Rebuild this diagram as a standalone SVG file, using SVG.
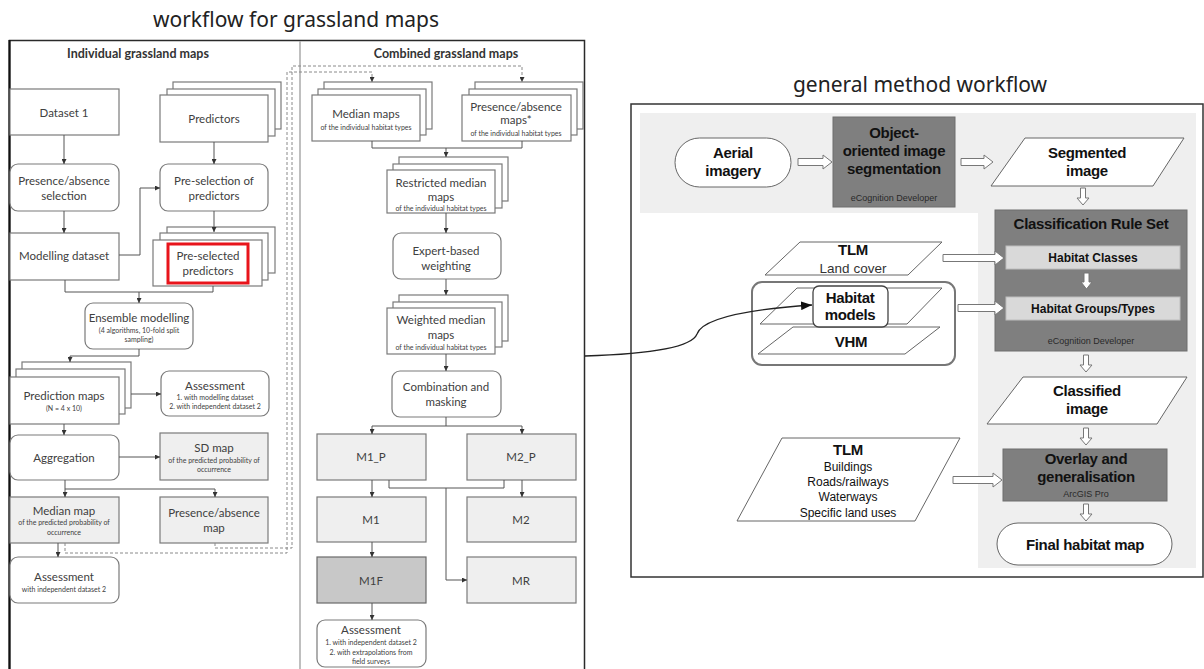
<svg xmlns="http://www.w3.org/2000/svg" width="1204" height="669" viewBox="0 0 1204 669">
<style>
.bx{fill:#fff;stroke:#7a7a7a;stroke-width:1.2}
.gy{fill:#efefef;stroke:#7a7a7a;stroke-width:1.2}
.dk{fill:#c8c8c8;stroke:#6a6a6a;stroke-width:1.2}
.t{font-family:Lato,"Open Sans",sans-serif;fill:#404040;text-anchor:middle}
.m{font-size:11.5px}
.s{font-size:7px}
.h{font-size:12.5px;font-weight:bold;fill:#333}
.cn{fill:none;stroke:#555;stroke-width:1}
.ds{fill:none;stroke:#8a8a8a;stroke-width:1;stroke-dasharray:3 2}
.r{font-family:"Liberation Sans",Arial,sans-serif;text-anchor:middle;fill:#111}
.rb{font-size:15px;font-weight:bold;letter-spacing:-0.3px}
.rn{font-size:13.5px;fill:#333}
.rs{font-size:9px;fill:#2a2a2a}
.ha{fill:#fff;stroke:#777;stroke-width:1}
.pg{fill:#fff;stroke:#666;stroke-width:1}
.db{fill:#7f7f7f;stroke:#6f6f6f;stroke-width:1}
.lb{fill:#d9d9d9;stroke:#bdbdbd;stroke-width:1}
.ti{font-family:"Noto Sans","Open Sans",sans-serif;font-size:21px;fill:#222;text-anchor:middle}
</style>
<defs>
<marker id="a" viewBox="0 0 6 6" refX="6" refY="3" markerWidth="5" markerHeight="5" orient="auto" markerUnits="userSpaceOnUse"><path d="M0,0 L6,3 L0,6 z" fill="#333"/></marker>
<marker id="b" viewBox="0 0 10 8" refX="10" refY="4" markerWidth="11" markerHeight="9" orient="auto" markerUnits="userSpaceOnUse"><path d="M0,0 L10,4 L0,8 z" fill="#111"/></marker>
</defs>
<rect width="1204" height="669" fill="#fff"/>

<text class="ti" x="296" y="27">workflow for grassland maps</text>
<text class="ti" x="920" y="92">general method workflow</text>

<g id="frame-left">
<path d="M9.5,669 V40.5 H584.5 V669" fill="none" stroke="#2a2a2a" stroke-width="1.5"/>
<line x1="9.5" y1="40" x2="9.5" y2="669" stroke="#111" stroke-width="2.2"/>
<line x1="300" y1="41" x2="300" y2="669" stroke="#aaa" stroke-width="1.5"/>
<text class="t h" x="138" y="58">Individual grassland maps</text>
<text class="t h" x="446" y="58">Combined grassland maps</text>
</g>

<g id="dataset1"><rect class="bx" x="10" y="89" width="109" height="46"/><text class="t m" x="64" y="117">Dataset 1</text></g>
<g id="predictors">
<rect class="bx" x="173" y="82" width="108" height="47"/>
<rect class="bx" x="167" y="89" width="108" height="47"/>
<rect class="bx" x="160" y="95" width="108" height="47"/>
<text class="t m" x="214" y="123">Predictors</text></g>
<g id="pa-selection"><rect class="bx" x="10" y="164" width="109" height="47" rx="8"/><text class="t m" x="64" y="185">Presence/absence</text><text class="t m" x="64" y="200">selection</text></g>
<g id="preselection"><rect class="bx" x="160" y="164" width="108" height="47" rx="8"/><text class="t m" x="214" y="185">Pre-selection of</text><text class="t m" x="214" y="200">predictors</text></g>
<g id="modelling-dataset"><rect class="bx" x="10" y="233" width="109" height="47"/><text class="t m" x="64" y="260">Modelling dataset</text></g>
<g id="preselected">
<rect class="bx" x="167" y="227" width="108" height="46"/>
<rect class="bx" x="160" y="233" width="108" height="47"/>
<rect class="bx" x="153" y="240" width="109" height="46"/>
<rect x="168" y="244" width="80" height="39" fill="none" stroke="#e8141b" stroke-width="3"/>
<text class="t m" x="208" y="260">Pre-selected</text><text class="t m" x="208" y="275">predictors</text></g>
<g id="ensemble"><rect class="bx" x="85" y="303" width="108" height="46" rx="8"/><text class="t m" x="139" y="322">Ensemble modelling</text><text class="t s" x="139" y="333">(4 algorithms, 10-fold split</text><text class="t s" x="139" y="342">sampling)</text></g>
<g id="prediction-maps">
<rect class="bx" x="22" y="362" width="109" height="46"/>
<rect class="bx" x="16" y="369" width="109" height="45"/>
<rect class="bx" x="10" y="377" width="109" height="47"/>
<text class="t m" x="64" y="400">Prediction maps</text><text class="t s" x="64" y="411">(N = 4 x 10)</text></g>
<g id="assessment1"><rect class="bx" x="161" y="371" width="108" height="45" rx="8"/><text class="t m" x="215" y="390">Assessment</text><text class="t s" x="215" y="400">1. with modelling dataset</text><text class="t s" x="215" y="409">2. with independent dataset 2</text></g>
<g id="aggregation"><rect class="bx" x="10" y="435" width="109" height="45" rx="8"/><text class="t m" x="64" y="462">Aggregation</text></g>
<g id="sd-map"><rect class="gy" x="160" y="433" width="108" height="47"/><text class="t m" x="214" y="452">SD map</text><text class="t s" x="214" y="463">of the predicted probability of</text><text class="t s" x="214" y="472">occurrence</text></g>
<g id="median-map"><rect class="gy" x="10" y="497" width="109" height="46"/><text class="t m" x="64" y="515">Median map</text><text class="t s" x="64" y="525">of the predicted probability of</text><text class="t s" x="64" y="535">occurrence</text></g>
<g id="pa-map"><rect class="gy" x="160" y="497" width="108" height="46"/><text class="t m" x="214" y="517">Presence/absence</text><text class="t m" x="214" y="532">map</text></g>
<g id="assessment2"><rect class="bx" x="10" y="557" width="109" height="46" rx="8"/><text class="t m" x="64" y="581">Assessment</text><text class="t s" x="64" y="592">with independent dataset 2</text></g>

<g id="median-maps">
<rect class="bx" x="324" y="82" width="108" height="47"/>
<rect class="bx" x="318" y="89" width="108" height="46"/>
<rect class="bx" x="312" y="95" width="108" height="46"/>
<text class="t m" x="366" y="118">Median maps</text><text class="t s" x="366" y="130">of the individual habitat types</text></g>
<g id="pa-maps">
<rect class="bx" x="475" y="82" width="108" height="47"/>
<rect class="bx" x="469" y="89" width="108" height="46"/>
<rect class="bx" x="462" y="95" width="109" height="46"/>
<text class="t m" x="516" y="111">Presence/absence</text><text class="t m" x="516" y="124">maps*</text><text class="t s" x="516" y="136">of the individual habitat types</text></g>
<g id="restricted">
<rect class="bx" x="399" y="157" width="109" height="44"/>
<rect class="bx" x="393" y="164" width="109" height="44"/>
<rect class="bx" x="387" y="170" width="108" height="43"/>
<text class="t m" x="441" y="187">Restricted median</text><text class="t m" x="441" y="201">maps</text><text class="t s" x="441" y="211">of the individual habitat types</text></g>
<g id="expert"><rect class="bx" x="393" y="233" width="108" height="46" rx="8"/><text class="t m" x="446" y="255">Expert-based</text><text class="t m" x="446" y="270">weighting</text></g>
<g id="weighted">
<rect class="bx" x="399" y="295" width="109" height="46"/>
<rect class="bx" x="393" y="302" width="109" height="45"/>
<rect class="bx" x="387" y="308" width="108" height="46"/>
<text class="t m" x="441" y="324">Weighted median</text><text class="t m" x="441" y="339">maps</text><text class="t s" x="441" y="350">of the individual habitat types</text></g>
<g id="combination"><rect class="bx" x="392" y="371" width="109" height="46" rx="8"/><text class="t m" x="446" y="391">Combination and</text><text class="t m" x="446" y="406">masking</text></g>
<g id="m1p"><rect class="gy" x="317" y="434" width="109" height="46"/><text class="t m" x="371" y="461">M1_P</text></g>
<g id="m2p"><rect class="gy" x="467" y="434" width="109" height="46"/><text class="t m" x="521" y="461">M2_P</text></g>
<g id="m1"><rect class="gy" x="317" y="497" width="109" height="45"/><text class="t m" x="371" y="524">M1</text></g>
<g id="m2"><rect class="gy" x="467" y="497" width="109" height="45"/><text class="t m" x="521" y="524">M2</text></g>
<g id="m1f"><rect class="dk" x="317" y="557" width="109" height="46"/><text class="t m" x="371" y="585">M1F</text></g>
<g id="mr"><rect class="gy" x="467" y="557" width="109" height="46"/><text class="t m" x="521" y="585">MR</text></g>
<g id="assessment3"><rect class="bx" x="317" y="620" width="109" height="47" rx="8"/><text class="t m" x="371" y="634">Assessment</text><text class="t s" x="371" y="645">1. with independent dataset 2</text><text class="t s" x="371" y="655">2. with extrapolations from</text><text class="t s" x="371" y="664">field surveys</text></g>

<g id="frame-right">
<rect x="631" y="104" width="572" height="473" fill="#fff" stroke="#333" stroke-width="1.5"/>
<path d="M640,113 H1196 V568 H978 V213 H640 Z" fill="#efefef"/>
</g>
<g id="aerial"><rect x="675" y="138" width="116" height="49" rx="24.5" fill="#fff" stroke="#666" stroke-width="1"/><text class="r rb" x="733" y="158">Aerial</text><text class="r rb" x="733" y="176">imagery</text></g>
<g id="segmentation"><rect class="db" x="833" y="117" width="122" height="90"/><text class="r rb" x="894" y="138">Object-</text><text class="r rb" x="894" y="156">oriented image</text><text class="r rb" x="894" y="174">segmentation</text><text class="r rs" x="894" y="201">eCognition Developer</text></g>
<g id="segmented"><polygon class="pg" points="1025,138 1184,138 1153,186 991,186"/><text class="r rb" x="1087" y="158">Segmented</text><text class="r rb" x="1087" y="176">image</text></g>
<g id="ruleset"><rect class="db" x="995" y="210" width="192" height="141"/><text class="r rb" x="1091" y="229">Classification Rule Set</text>
<rect class="lb" x="1006" y="246" width="174" height="23"/><text class="r" x="1093" y="262" font-size="12" font-weight="bold">Habitat  Classes</text>
<rect class="lb" x="1006" y="297" width="174" height="23"/><text class="r" x="1093" y="313" font-size="12" font-weight="bold">Habitat  Groups/Types</text>
<text class="r rs" x="1091" y="344">eCognition Developer</text></g>
<g id="classified"><polygon class="pg" points="1023,377 1187,377 1157,424 987,424"/><text class="r rb" x="1087" y="396">Classified</text><text class="r rb" x="1087" y="414">image</text></g>
<g id="overlay"><rect class="db" x="1003" y="449" width="164" height="52"/><text class="r rb" x="1086" y="464">Overlay and</text><text class="r rb" x="1086" y="482">generalisation</text><text class="r rs" x="1086" y="497">ArcGIS Pro</text></g>
<g id="final"><rect x="997" y="523" width="175" height="42" rx="21" fill="#fff" stroke="#666" stroke-width="1"/><text class="r rb" x="1085" y="550">Final habitat map</text></g>
<g id="tlm-landcover"><polygon class="pg" points="800,242 942,242 908,275 765,275"/><text class="r rb" x="853" y="255">TLM</text><text class="r rn" x="853" y="273">Land cover</text></g>
<g id="layer-group"><rect x="752" y="282" width="203" height="83" rx="10" fill="#fff" stroke="#777" stroke-width="2"/>
<polygon class="pg" points="797,288 942,288 907,324 760,324"/>
<polygon class="pg" points="793,327 940,327 905,354 758,354"/>
<text class="r rb" x="851" y="347">VHM</text>
<rect x="813" y="286" width="75" height="41" rx="6" fill="#fff" stroke="#444" stroke-width="1.3"/>
<text class="r rb" x="850" y="303">Habitat</text><text class="r rb" x="850" y="320">models</text></g>
<g id="tlm-other"><polygon class="pg" points="782,438 960,438 915,521 737,521"/><text class="r rb" x="848" y="455">TLM</text><text class="r" x="848" y="471" font-size="12" fill="#333">Buildings</text><text class="r" x="848" y="486" font-size="12" fill="#333">Roads/railways</text><text class="r" x="848" y="501" font-size="12" fill="#333">Waterways</text><text class="r" x="848" y="517" font-size="12" fill="#333">Specific land uses</text></g>

<g id="connectors">
<path class="cn" d="M64,135 V164" marker-end="url(#a)"/>
<path class="cn" d="M214,142 V164" marker-end="url(#a)"/>
<path class="cn" d="M64,211 V233" marker-end="url(#a)"/>
<path class="cn" d="M119,255 H140 V188 H160" marker-end="url(#a)"/>
<path class="cn" d="M214,211 V232" marker-end="url(#a)"/>
<path class="cn" d="M65,280 V292 H213 V286"/>
<path class="cn" d="M139,292 V303" marker-end="url(#a)"/>
<path class="cn" d="M139,349 V356 H70 V362" marker-end="url(#a)"/>
<path class="cn" d="M131,394 H161" marker-end="url(#a)"/>
<path class="cn" d="M64,424 V435" marker-end="url(#a)"/>
<path class="cn" d="M119,457 H160" marker-end="url(#a)"/>
<path class="cn" d="M65,480 V489 H215 V497" marker-end="url(#a)"/>
<path class="cn" d="M65,489 V497" marker-end="url(#a)"/>
<path class="cn" d="M58,543 V557" marker-end="url(#a)"/>
<path class="ds" d="M65,543 V553 H287 V72 H372 V82" marker-end="url(#a)"/>
<path class="ds" d="M215,543 V548 H292 V66 H522 V82" marker-end="url(#a)"/>
<path class="cn" d="M372,141 V148 H522 V141"/>
<path class="cn" d="M446,148 V157" marker-end="url(#a)"/>
<path class="cn" d="M446,213 V233" marker-end="url(#a)"/>
<path class="cn" d="M446,279 V295" marker-end="url(#a)"/>
<path class="cn" d="M446,354 V371" marker-end="url(#a)"/>
<path class="cn" d="M446,417 V426 H372 V434" marker-end="url(#a)"/>
<path class="cn" d="M446,426 H522 V434" marker-end="url(#a)"/>
<path class="cn" d="M372,480 V497" marker-end="url(#a)"/>
<path class="cn" d="M522,480 V497" marker-end="url(#a)"/>
<path class="cn" d="M389,480 V488 H504 V480"/>
<path class="cn" d="M446,488 V580 H467" marker-end="url(#a)"/>
<path class="cn" d="M372,542 V557" marker-end="url(#a)"/>
<path class="cn" d="M372,603 V620" marker-end="url(#a)"/>
<path d="M585,356 C650,354 692,347 697,334 C702,320 740,310 812,305" fill="none" stroke="#222" stroke-width="1.3" marker-end="url(#b)"/>
<polygon class="ha" points="798,158.5 823,158.5 823,155 832,162 823,169 823,165.5 798,165.5"/>
<polygon class="ha" points="961,158.5 984,158.5 984,155 993,162 984,169 984,165.5 961,165.5"/>
<polygon class="ha" points="943,254.5 995,254.5 995,251 1004,258 995,265 995,261.5 943,261.5"/>
<polygon class="ha" points="958,304.5 995,304.5 995,301 1004,308 995,315 995,311.5 958,311.5"/>
<polygon class="ha" points="953,476.5 993,476.5 993,473 1002,480 993,487 993,483.5 953,483.5"/>
<polygon class="ha" points="1080.5,188 1085.5,188 1085.5,198 1089,198 1083,205 1077,198 1080.5,198"/>
<polygon class="ha" points="1084,273 1089,273 1089,282 1092,282 1086.5,289 1081,282 1084,282"/>
<polygon class="ha" points="1083.5,355 1088.5,355 1088.5,365 1092,365 1086,372 1080,365 1083.5,365"/>
<polygon class="ha" points="1083.5,428 1088.5,428 1088.5,438 1092,438 1086,445 1080,438 1083.5,438"/>
<polygon class="ha" points="1083.5,504 1088.5,504 1088.5,514 1092,514 1086,521 1080,514 1083.5,514"/>
</g>
</svg>
